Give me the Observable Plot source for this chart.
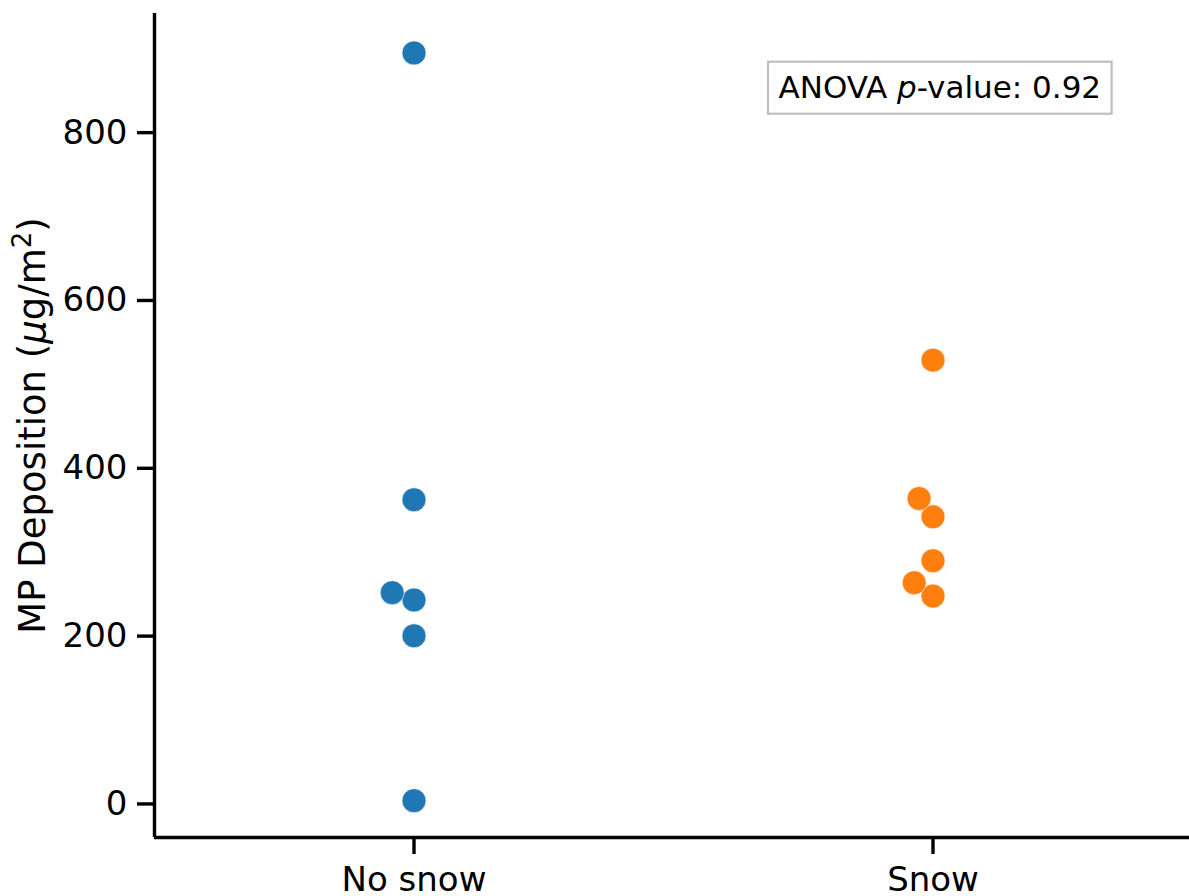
<!DOCTYPE html>
<html>
<head>
<meta charset="utf-8">
<script src="https://cdn.jsdelivr.net/npm/d3@7"></script>
<script src="https://cdn.jsdelivr.net/npm/@observablehq/plot@0.6"></script>
<style>
  html, body { margin: 0; padding: 0; background: #fff; }
  #chart svg { display: block; }
</style>
</head>
<body>
<div id="chart"></div>
<script>
// Microplastic deposition per site, grouped by snow cover (µg/m²)
const groups = ["No snow", "Snow"];
const noSnowValues = [3.9, 200.4, 243.0, 251.8, 362.5, 895.0];
const snowValues = [247.8, 263.6, 289.8, 342.2, 364.0, 528.9];
const groupColors = ["#1f77b4", "#ff7f0e"];
const yTicks = [0, 200, 400, 600, 800];
const anovaP = 0.92;

const rows = [
  ...noSnowValues.map((value) => ({group: groups[0], value})),
  ...snowValues.map((value) => ({group: groups[1], value}))
];

const yMin = -40, yMax = 942;
const ink = "#000";

const chart = Plot.plot({
  width: 1189,
  height: 896,
  marginLeft: 154,
  marginRight: -3,
  marginTop: 13,
  marginBottom: 59,
  style: {fontFamily: "'DejaVu Sans', sans-serif", color: ink, background: "#fff", overflow: "hidden"},
  fx: {domain: groups, padding: 0, label: null},
  x: {domain: [0, 1], axis: null},
  y: {domain: [yMin, yMax], label: null},
  color: {domain: groups, range: groupColors},
  marks: [
    // spines
    Plot.ruleY([yMin], {stroke: ink, strokeWidth: 3.4}),
    Plot.ruleX([{g: groups[0]}], {fx: "g", x: 0, y1: yMin, y2: yMax, stroke: ink, strokeWidth: 3.4}),
    Plot.axisY({ticks: yTicks, tickSize: 17, tickPadding: 10, strokeWidth: 3.4,
      fontSize: 34, label: null, fill: ink}),
    Plot.axisFx({anchor: "bottom", tickSize: 17, tickPadding: 12, strokeWidth: 3.4,
      fontSize: 34, label: null, fill: ink}),
    // swarm of observations
    Plot.dot(rows, Plot.dodgeX({anchor: "middle", padding: -1},
      {fx: "group", y: "value", r: 12, fill: "group", stroke: "#fff", strokeWidth: 0.6})),
    // y axis title
    Plot.text([{g: groups[0], t: "MP Deposition (μg/m2)"}], {
      fx: "g", text: "t", frameAnchor: "left", rotate: -90, dx: -121,
      textAnchor: "middle", lineAnchor: "middle", fontSize: 37, fill: ink
    }),
    // test result annotation
    Plot.text([{g: groups[1], t: `ANOVA p-value: ${anovaP.toFixed(2)}`}], {
      fx: "g", text: "t", frameAnchor: "top-left", dx: 105, dy: 62.7,
      textAnchor: "start", lineAnchor: "top", fontSize: 31, fill: ink
    })
  ]
});

document.getElementById("chart").appendChild(chart);

// rich text: italic symbols and superscript
const textGroups = chart.querySelectorAll('g[aria-label="text"]');
const yTitle = textGroups[0].querySelector("text");
yTitle.innerHTML = 'MP Deposition (<tspan font-style="italic">μ</tspan>g/m' +
  '<tspan dy="-14" font-size="26">2</tspan><tspan dy="14">)</tspan>';

const note = textGroups[1].querySelector("text");
note.innerHTML = 'ANOVA <tspan font-style="italic">p</tspan>-value: ' + anovaP.toFixed(2);

// legend-style frame around the annotation
const bb = note.getBBox();
const box = document.createElementNS("http://www.w3.org/2000/svg", "rect");
box.setAttribute("x", bb.x - 10.5);
box.setAttribute("y", bb.y - 7.5);
box.setAttribute("width", bb.width + 21);
box.setAttribute("height", bb.height + 16);
box.setAttribute("fill", "#fff");
box.setAttribute("stroke", "#bfbfbf");
box.setAttribute("stroke-width", 2.2);
if (note.getAttribute("transform")) box.setAttribute("transform", note.getAttribute("transform"));
note.parentNode.insertBefore(box, note);
</script>
</body>
</html>
